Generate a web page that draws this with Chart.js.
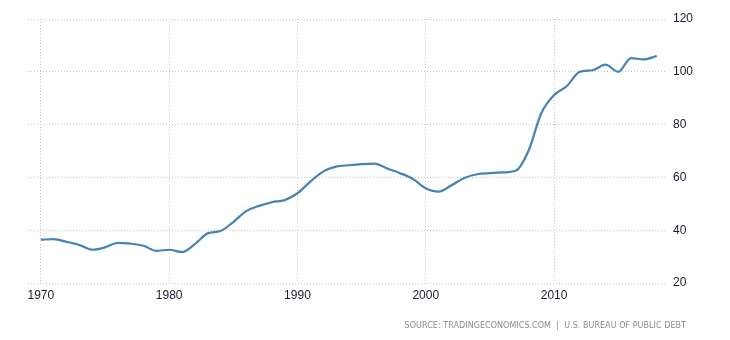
<!DOCTYPE html>
<html>
<head>
<meta charset="utf-8">
<script src="https://cdn.jsdelivr.net/npm/chart.js@4/dist/chart.umd.min.js"></script>
<style>
  html, body { margin: 0; padding: 0; background: #fff; }
  #wrap { width: 730px; height: 340px; position: relative; }
  #source {
    position: absolute; right: 44px; top: 321px;
    font: 8px "DejaVu Sans", sans-serif; letter-spacing: 0.05px;
    color: #8a8a8a; white-space: pre;
  }
</style>
</head>
<body>
<div id="wrap"><canvas id="debtChart"></canvas><div id="source"></div></div>
<script>
// years and government debt to gdp (%)
var years = [1970, 1971, 1972, 1973, 1974, 1975, 1976, 1977, 1978, 1979,
             1980, 1981, 1982, 1983, 1984, 1985, 1986, 1987, 1988, 1989,
             1990, 1991, 1992, 1993, 1994, 1995, 1996, 1997, 1998, 1999,
             2000, 2001, 2002, 2003, 2004, 2005, 2006, 2007, 2008, 2009,
             2010, 2011, 2012, 2013, 2014, 2015, 2016, 2017, 2018];
var debt = [36.4, 36.6, 35.6, 34.4, 32.6, 33.5, 35.2, 34.9, 34.1, 32.2,
            32.6, 31.7, 34.7, 38.8, 39.7, 43.1, 47.2, 49.2, 50.6, 51.4,
            54.0, 58.4, 62.2, 64.1, 64.6, 65.0, 65.2, 63.4, 61.6, 59.4,
            55.9, 54.6, 57.0, 59.8, 61.2, 61.6, 61.9, 62.5, 70.0, 84.3,
            91.2, 94.6, 100.0, 100.6, 102.7, 100.0, 105.2, 104.7, 106.0];
var xTicks = [1970, 1980, 1990, 2000, 2010];
var yTicks = [20, 40, 60, 80, 100, 120];
var sourceText = 'SOURCE: TRADINGECONOMICS.COM  |  U.S. BUREAU OF PUBLIC DEBT';

document.getElementById('source').textContent = sourceText;

var points = years.map(function (y, i) { return { x: y, y: debt[i] }; });

const gridStyle = {
  color: '#c4c4c4',
  lineWidth: 1,
  drawTicks: false
};

const config = {
  type: 'line',
  data: {
    datasets: [{
      label: 'Government Debt to GDP',
      data: points,
      borderColor: 'rgb(70, 130, 180)',
      borderWidth: 2.2,
      pointRadius: 0,
      cubicInterpolationMode: 'monotone',
      fill: false
    }]
  },
  options: {
    responsive: true,
    maintainAspectRatio: false,
    animation: false,
    layout: { padding: { left: 28, top: 19, right: 0, bottom: 26 } },
    plugins: {
      legend: { display: false },
      tooltip: { enabled: false }
    },
    scales: {
      x: {
        type: 'linear',
        min: 1969,
        max: 2018.8,
        afterBuildTicks: function (scale) {
          scale.ticks = xTicks.map(function (v) { return { value: v }; });
        },
        afterFit: function (scale) { scale.height = 31; },
        grid: gridStyle,
        border: { display: false, dash: [1, 2] },
        ticks: {
          color: '#1a1a33',
          padding: 5,
          maxRotation: 0,
          font: { family: 'Liberation Sans', size: 12 },
          callback: function (v) { return String(v); }
        }
      },
      y: {
        position: 'right',
        min: 20,
        max: 120,
        afterBuildTicks: function (scale) {
          scale.ticks = yTicks.map(function (v) { return { value: v }; });
        },
        afterFit: function (scale) { scale.width = 63; },
        grid: gridStyle,
        border: { display: false, dash: [1, 2] },
        ticks: {
          color: '#1a1a33',
          padding: 6,
          font: { family: 'Liberation Sans', size: 12 }
        }
      }
    }
  }
};

var debtChart = new Chart(document.getElementById('debtChart'), config);
</script>
</body>
</html>
